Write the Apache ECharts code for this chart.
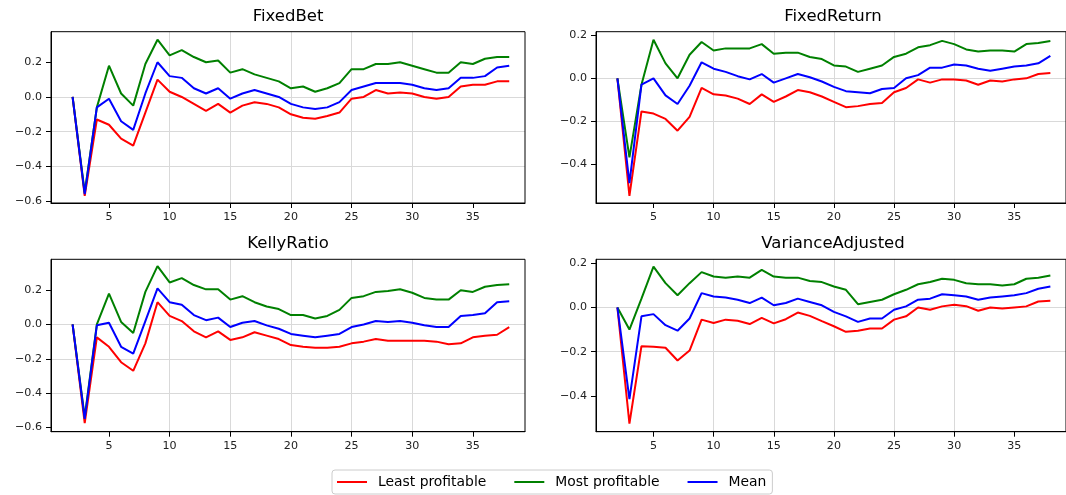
<!DOCTYPE html>
<html>
<head>
<meta charset="utf-8">
<script src="https://cdn.jsdelivr.net/npm/echarts@6/dist/echarts.min.js"></script>
<style>
html,body{margin:0;padding:0;background:#fff;}
#chart{width:1066px;height:495px;}
</style>
</head>
<body>
<div id="chart"></div>
<script>
// ---- data ----
const steps = [2,3,4,5,6,7,8,9,10,11,12,13,14,15,16,17,18,19,20,21,22,23,24,25,26,27,28,29,30,31,32,33,34,35,36,37,38];
const panelTitles = ['FixedBet','FixedReturn','KellyRatio','VarianceAdjusted'];
const seriesNames = ['Least profitable','Most profitable','Mean'];
const xTicks = [5,10,15,20,25,30,35];
const yTicksTall = [-0.6,-0.4,-0.2,0.0,0.2];
const yTicksShort = [-0.4,-0.2,0.0,0.2];

// FixedBet
const fixedBetLeast = [0,-0.57,-0.13,-0.16,-0.24,-0.28,-0.09,0.10,0.03,0.00,-0.04,-0.08,-0.04,-0.09,-0.05,-0.03,-0.04,-0.06,-0.10,-0.12,-0.125,-0.11,-0.09,-0.01,0.00,0.04,0.02,0.025,0.02,0.00,-0.01,0.00,0.06,0.07,0.07,0.09,0.09];
const fixedBetMost  = [0,-0.55,-0.06,0.18,0.02,-0.05,0.19,0.33,0.24,0.27,0.23,0.20,0.21,0.14,0.16,0.13,0.11,0.09,0.05,0.06,0.03,0.05,0.08,0.16,0.16,0.19,0.19,0.20,0.18,0.16,0.14,0.14,0.20,0.19,0.22,0.23,0.23];
const fixedBetMean  = [0,-0.56,-0.06,-0.01,-0.14,-0.19,0.02,0.20,0.12,0.11,0.05,0.02,0.05,-0.01,0.02,0.04,0.02,0.00,-0.04,-0.06,-0.07,-0.06,-0.03,0.04,0.06,0.08,0.08,0.08,0.07,0.05,0.04,0.05,0.11,0.11,0.12,0.17,0.18];

// FixedReturn
const fixedReturnLeast = [0,-0.55,-0.155,-0.165,-0.19,-0.245,-0.18,-0.045,-0.075,-0.08,-0.095,-0.12,-0.075,-0.11,-0.085,-0.055,-0.065,-0.085,-0.11,-0.135,-0.13,-0.12,-0.115,-0.065,-0.045,-0.005,-0.02,-0.005,-0.005,-0.01,-0.03,-0.01,-0.015,-0.005,0.00,0.02,0.025];
const fixedReturnMost  = [0,-0.37,-0.03,0.18,0.07,0.00,0.11,0.17,0.13,0.14,0.14,0.14,0.16,0.115,0.12,0.12,0.10,0.09,0.06,0.055,0.03,0.045,0.06,0.10,0.115,0.145,0.155,0.175,0.16,0.135,0.125,0.13,0.13,0.125,0.16,0.165,0.175];
const fixedReturnMean  = [0,-0.49,-0.03,0.00,-0.08,-0.12,-0.035,0.075,0.045,0.03,0.01,-0.005,0.02,-0.02,0.00,0.02,0.005,-0.015,-0.04,-0.06,-0.065,-0.07,-0.05,-0.045,0.00,0.015,0.05,0.05,0.065,0.06,0.045,0.035,0.045,0.055,0.06,0.07,0.105];

// KellyRatio
const kellyLeast = [0,-0.575,-0.075,-0.13,-0.22,-0.27,-0.11,0.13,0.05,0.02,-0.04,-0.075,-0.04,-0.09,-0.075,-0.045,-0.065,-0.085,-0.12,-0.13,-0.135,-0.135,-0.13,-0.11,-0.10,-0.085,-0.095,-0.095,-0.095,-0.095,-0.10,-0.115,-0.11,-0.075,-0.065,-0.06,-0.015];
const kellyMost  = [0,-0.54,0.00,0.18,0.015,-0.05,0.19,0.34,0.245,0.27,0.23,0.205,0.205,0.145,0.165,0.13,0.105,0.09,0.055,0.055,0.035,0.05,0.085,0.155,0.165,0.19,0.195,0.205,0.185,0.155,0.145,0.145,0.20,0.19,0.22,0.23,0.235];
const kellyMean  = [0,-0.55,-0.005,0.01,-0.13,-0.17,0.02,0.21,0.13,0.115,0.055,0.025,0.04,-0.015,0.01,0.02,-0.005,-0.025,-0.055,-0.065,-0.075,-0.065,-0.055,-0.015,0.00,0.02,0.015,0.02,0.01,-0.005,-0.015,-0.015,0.05,0.055,0.065,0.13,0.135];

// VarianceAdjusted
const varAdjLeast = [0,-0.525,-0.175,-0.178,-0.182,-0.24,-0.195,-0.055,-0.07,-0.055,-0.06,-0.075,-0.047,-0.072,-0.053,-0.023,-0.038,-0.062,-0.085,-0.11,-0.105,-0.095,-0.095,-0.055,-0.04,0.00,-0.01,0.005,0.012,0.006,-0.015,0.00,-0.005,0.00,0.005,0.027,0.03];
const varAdjMost  = [0,-0.10,0.04,0.185,0.11,0.055,0.11,0.16,0.14,0.135,0.14,0.135,0.17,0.14,0.135,0.135,0.12,0.115,0.095,0.08,0.015,0.025,0.035,0.06,0.08,0.105,0.115,0.13,0.125,0.11,0.105,0.105,0.10,0.105,0.13,0.135,0.145];
const varAdjMean  = [0,-0.415,-0.04,-0.03,-0.08,-0.105,-0.05,0.065,0.05,0.045,0.035,0.02,0.045,0.01,0.02,0.04,0.025,0.01,-0.02,-0.04,-0.065,-0.05,-0.05,-0.01,0.005,0.035,0.04,0.06,0.055,0.05,0.035,0.045,0.05,0.055,0.065,0.085,0.095];

const panelData = [
  [fixedBetLeast, fixedBetMost, fixedBetMean],
  [fixedReturnLeast, fixedReturnMost, fixedReturnMean],
  [kellyLeast, kellyMost, kellyMean],
  [varAdjLeast, varAdjMost, varAdjMean]
];
const yTickSets = [yTicksTall, yTicksShort, yTicksTall, yTicksShort];
const yLimits = [[-0.611, 0.376], [-0.583, 0.218], [-0.625, 0.380], [-0.562, 0.218]];
const xLimits = [0.22, 39.3];

// ---- layout ----
const colors = ['#ff0000', '#008000', '#0000ff'];
const grids = [
  {left: 51, top: 31.7, width: 474, height: 171.3},
  {left: 596, top: 31.7, width: 474, height: 171.3},
  {left: 51, top: 259.3, width: 474, height: 172.4},
  {left: 596, top: 259.3, width: 474, height: 172.4}
];
const FONT = 'DejaVu Sans';

function fmtY(v) {
  const s = Number(v).toFixed(1);
  if (s === '-0.0' || s === '0.0') return '0.0';
  return s.replace('-', '\u2212');
}
function fmtX(v) {
  return String(Math.round(v));
}

const option = {
  animation: false,
  backgroundColor: '#ffffff',
  textStyle: {fontFamily: FONT},
  grid: grids.map(g => Object.assign({show: true, borderColor: '#000', borderWidth: 1, backgroundColor: 'transparent', containLabel: false, z: 10}, g)),
  xAxis: grids.map((g, i) => ({
    type: 'value', gridIndex: i, min: xLimits[0], max: xLimits[1], splitNumber: 8,
    axisLine: {show: true, onZero: false, lineStyle: {color: '#000', width: 1}},
    axisTick: {show: true, length: 5, customValues: xTicks, lineStyle: {color: '#000', width: 1}},
    axisLabel: {customValues: xTicks, formatter: fmtX, color: '#222', fontFamily: FONT, fontSize: 11.1, margin: 9},
    splitLine: {show: true, showMinLine: false, showMaxLine: false, lineStyle: {color: '#d9d9d9', width: 1}}
  })),
  yAxis: grids.map((g, i) => ({
    type: 'value', gridIndex: i, min: yLimits[i][0], max: yLimits[i][1], splitNumber: 5,
    axisLine: {show: true, onZero: false, lineStyle: {color: '#000', width: 1}},
    axisTick: {show: true, length: 5, customValues: yTickSets[i], lineStyle: {color: '#000', width: 1}},
    axisLabel: {customValues: yTickSets[i], formatter: fmtY, color: '#222', fontFamily: FONT, fontSize: 11.1, margin: 9},
    splitLine: {show: true, showMinLine: false, showMaxLine: false, lineStyle: {color: '#d9d9d9', width: 1}}
  })),
  legend: {
    data: seriesNames,
    left: 332, top: 470,
    orient: 'horizontal',
    icon: 'rect', itemWidth: 30, itemHeight: 2, itemGap: 28,
    padding: [5, 6, 5, 5],
    borderColor: '#cccccc', borderWidth: 1, borderRadius: 3,
    backgroundColor: '#ffffff',
    textStyle: {fontFamily: FONT, fontSize: 13.9, color: '#000', padding: [0, 0, 0, 6]}
  },
  graphic: panelTitles.map((t, i) => ({
    type: 'text',
    x: grids[i].left + grids[i].width / 2,
    y: (i < 2 ? 17 : 244),
    style: {text: t, fontFamily: FONT, fontSize: 16.5, fill: '#000', textAlign: 'center', textVerticalAlign: 'middle'}
  })),
  series: []
};

panelData.forEach((arrs, p) => {
  arrs.forEach((arr, s) => {
    option.series.push({
      type: 'line', name: seriesNames[s], xAxisIndex: p, yAxisIndex: p,
      data: steps.map((x, i) => [x, arr[i]]),
      showSymbol: false, symbol: 'none',
      lineStyle: {color: colors[s], width: 2},
      itemStyle: {color: colors[s]},
      z: 2 + s
    });
  });
});

const chart = echarts.init(document.getElementById('chart'), null, {renderer: 'canvas'});
chart.setOption(option);
</script>
</body>
</html>
